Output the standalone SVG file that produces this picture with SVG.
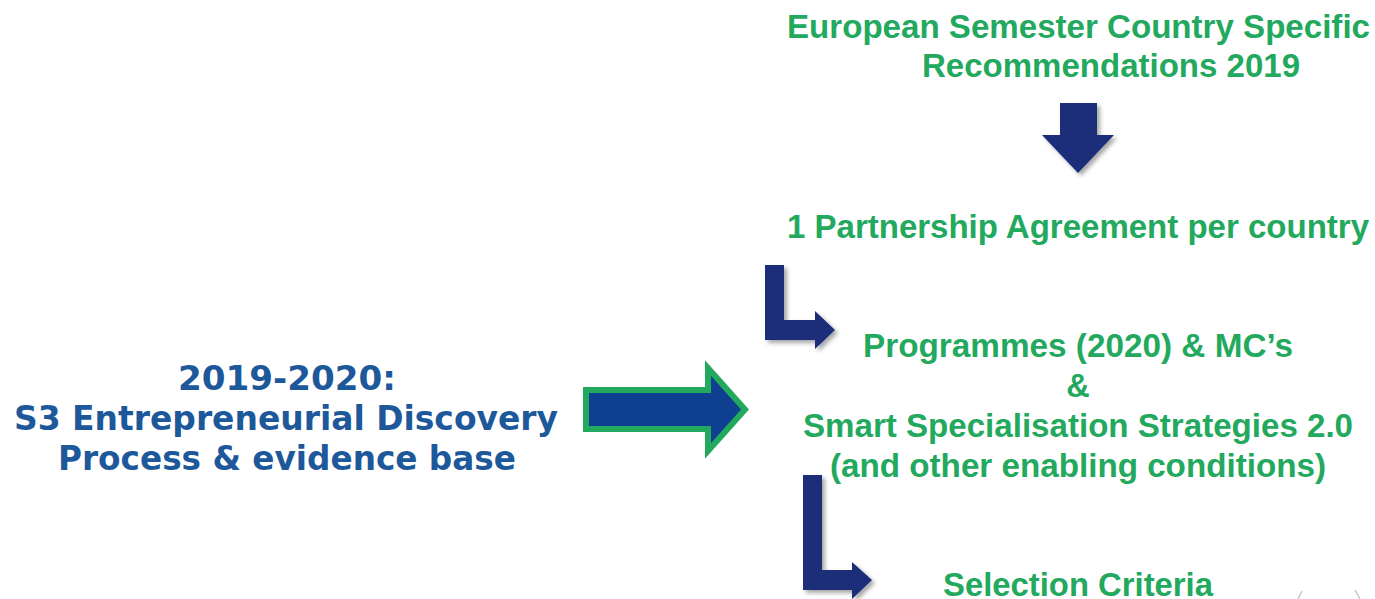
<svg xmlns="http://www.w3.org/2000/svg" width="1375" height="599" viewBox="0 0 1375 599">
  <defs>
    <filter id="shadow" x="-20%" y="-20%" width="150%" height="150%">
      <feDropShadow dx="3" dy="3" stdDeviation="2" flood-color="#000" flood-opacity="0.35"/>
    </filter>
  </defs>
  <style>
    .g { font-family: "Liberation Sans", Arial, sans-serif; font-weight: bold; font-size: 32.5px; fill: #22A95E; }
    .b { font-family: "DejaVu Sans", Verdana, sans-serif; font-weight: bold; font-size: 33px; fill: #1D589B; text-anchor: middle; }
    .navy { fill: #1A2F7A; filter: url(#shadow); }
  </style>
  <rect width="1375" height="599" fill="#fff"/>

  <g id="node-csr">
    <text class="g" x="787" y="38" textLength="583" lengthAdjust="spacingAndGlyphs">European Semester Country Specific</text>
    <text class="g" x="922" y="77" textLength="378" lengthAdjust="spacingAndGlyphs">Recommendations 2019</text>
  </g>
  <g id="node-pa">
    <text class="g" x="787" y="238" textLength="582" lengthAdjust="spacingAndGlyphs">1 Partnership Agreement per country</text>
  </g>
  <g id="node-programmes">
    <text class="g" x="863" y="357" textLength="430" lengthAdjust="spacingAndGlyphs">Programmes (2020) &amp; MC’s</text>
    <text class="g" x="1078" y="397" text-anchor="middle">&amp;</text>
    <text class="g" x="803" y="437" textLength="550" lengthAdjust="spacingAndGlyphs">Smart Specialisation Strategies 2.0</text>
    <text class="g" x="830" y="477" textLength="496" lengthAdjust="spacingAndGlyphs">(and other enabling conditions)</text>
  </g>
  <g id="node-selection">
    <text class="g" x="943" y="596" textLength="270" lengthAdjust="spacingAndGlyphs">Selection Criteria</text>
  </g>
  <g id="node-edp">
    <text class="b" x="287" y="390" textLength="218" lengthAdjust="spacingAndGlyphs">2019-2020:</text>
    <text class="b" x="286" y="430" textLength="544" lengthAdjust="spacingAndGlyphs">S3 Entrepreneurial Discovery</text>
    <text class="b" x="287" y="470" textLength="458" lengthAdjust="spacingAndGlyphs">Process &amp; evidence base</text>
  </g>

  <g id="connectors">
    <polygon class="navy" points="1060,103 1097,103 1097,135 1114,135 1078,173 1042,135 1060,135"/>
    <polygon class="navy" points="765,265 784,265 784,320 815,320 815,311 835,330 815,349 815,340 765,340"/>
    <polygon class="navy" points="803,475 822,475 822,570 852,570 852,562 872,580 852,599 852,590 803,590"/>
    <polygon points="586,390 708,390 708,368 745,409.5 708,451 708,429 586,429" fill="#0F3F91" stroke="#22A95E" stroke-width="6" stroke-linejoin="miter"/>
  </g>

  <g id="logo-fragment" stroke="#c8c8c8" stroke-width="1.5" fill="none">
    <line x1="1298" y1="599" x2="1302" y2="591"/>
    <line x1="1355" y1="590" x2="1360" y2="599"/>
  </g>
</svg>
